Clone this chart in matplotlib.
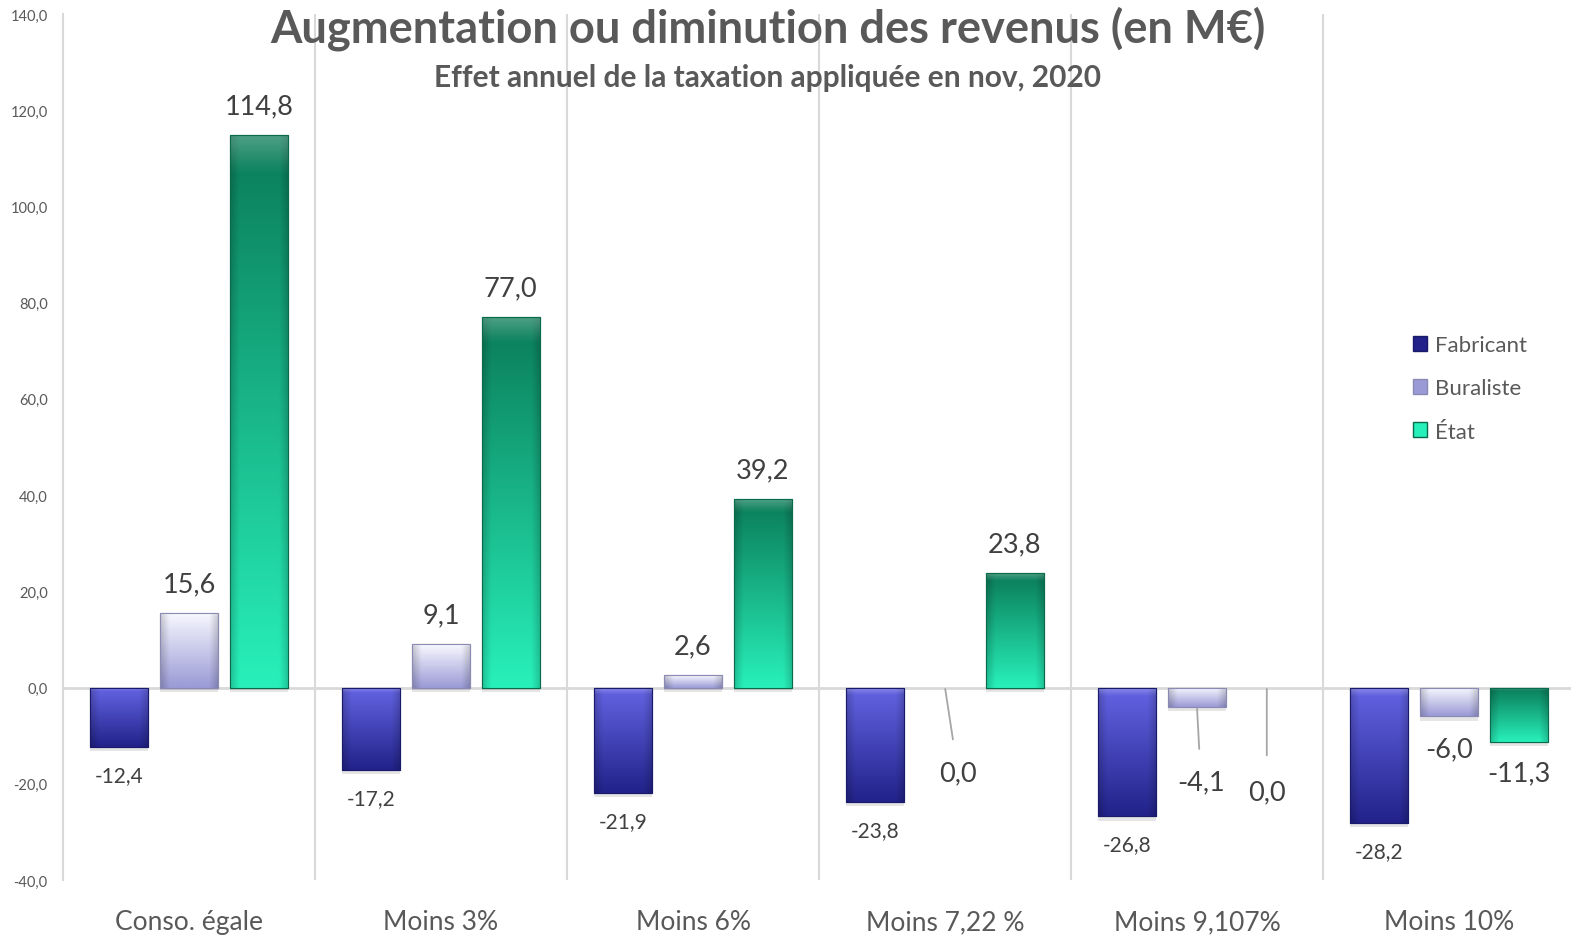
import numpy as np
import matplotlib
matplotlib.use("Agg")
import matplotlib.pyplot as plt
import matplotlib.patheffects as pe
from matplotlib.colors import to_rgb
from matplotlib.patches import Patch

categories = ["Conso. égale", "Moins 3%", "Moins 6%", "Moins 7,22 %", "Moins 9,107%", "Moins 10%"]
fabricant = [-12.4, -17.2, -21.9, -23.8, -26.8, -28.2]
buraliste = [15.6, 9.1, 2.6, 0.0, -4.1, -6.0]
etat = [114.8, 77.0, 39.2, 23.8, 0.0, -11.3]
series_names = ["Fabricant", "Buraliste", "État"]
yticks = [-40, -20, 0, 20, 40, 60, 80, 100, 120, 140]

title = "Augmentation ou diminution des revenus (en M€)"
subtitle = "Effet annuel de la taxation appliquée en nov, 2020"

plt.rcParams['font.family'] = ['Lato', 'DejaVu Sans']

# (top colour, bottom colour, edge colour)
styles = {
    "Fabricant": ("#6464e4", "#22228a", "#1a1a6a"),
    "Buraliste": ("#f8f8ff", "#9a9ad6", "#8a8ab4"),
    "État": ("#0a7c58", "#28f0ba", "#0a6a4c"),
}

fig = plt.figure(figsize=(15.71, 9.37), dpi=100)
ax = fig.add_axes([63/1571, (937-881)/937, 1512/1571, 866/937])

x = np.arange(len(categories))
offsets = [-0.277, 0.0, 0.277]
width = 0.232

def gradient_img(top, bottom, n=64, m=32):
    t = np.linspace(0, 1, n)[:, None]
    c0 = np.array(to_rgb(top)); c1 = np.array(to_rgb(bottom))
    img = (1 - t)[..., None] * c0 + t[..., None] * c1
    img = np.repeat(img, m, axis=1)
    u = np.linspace(-1, 1, m)
    shade = 1 - 0.18 * np.clip((np.abs(u) - 0.7) / 0.3, 0, 1)
    img = img * shade[None, :, None]
    bev = np.clip(1 - np.linspace(0, 1, n) / 0.06, 0, 1)[:, None, None]
    img = img + (1 - img) * 0.25 * bev
    return np.clip(img, 0, 1)

shadow = [pe.SimplePatchShadow(offset=(0, -3), alpha=0.10, shadow_rgbFace="#000000"), pe.Normal()]

all_vals = [fabricant, buraliste, etat]
for name, vals, off in zip(series_names, all_vals, offsets):
    top, bot, edge = styles[name]
    bars = ax.bar(x + off, vals, width, color=bot, edgecolor=edge, linewidth=0.8, zorder=3)
    img = gradient_img(top, bot)
    for b in bars:
        h = b.get_height()
        if abs(h) < 1e-9:
            b.set_visible(False)
            continue
        b.set_path_effects(shadow)
        bx, by = b.get_x(), b.get_y()
        y0, y1 = min(by, by + h), max(by, by + h)
        im = ax.imshow(img, extent=[bx, bx + b.get_width(), y0, y1], aspect='auto',
                       origin='upper', zorder=4, interpolation='bilinear')
        im.set_clip_path(b)
        ax.add_patch(plt.Rectangle((bx, y0), b.get_width(), y1 - y0, fill=False,
                                   edgecolor=edge, linewidth=0.8, zorder=5))

ax.set_xlim(-0.5, len(categories) - 0.5)
ax.set_ylim(-40, 140)

def fmt(v):
    return f"{v:.1f}".replace(".", ",")

label_col = "#404040"
big = 19.5
small = 15
for xi, v in zip(x, fabricant):
    ax.annotate(fmt(v), (xi + offsets[0], v), xytext=(0, -28), textcoords='offset pixels',
                ha='center', va='center', fontsize=small, color=label_col, zorder=6)

for vals, off in ((buraliste, offsets[1]), (etat, offsets[2])):
    for i, (xi, v) in enumerate(zip(x, vals)):
        if v > 0:
            ax.annotate(fmt(v), (xi + off, v), xytext=(0, 29), textcoords='offset pixels',
                        ha='center', va='center', fontsize=big, color=label_col, zorder=6)

ax.annotate(fmt(buraliste[3]), (x[3] + offsets[1], 0), xytext=(13, -85), textcoords='offset pixels',
            ha='center', va='center', fontsize=big, color=label_col, zorder=6,
            arrowprops=dict(arrowstyle='-', color='#a6a6a6', lw=1.3, shrinkA=13, shrinkB=1))
ax.annotate(fmt(buraliste[4]), (x[4] + offsets[1], buraliste[4]), xytext=(4, -75), textcoords='offset pixels',
            ha='center', va='center', fontsize=big, color=label_col, zorder=6,
            arrowprops=dict(arrowstyle='-', color='#a6a6a6', lw=1.3, shrinkA=13, shrinkB=1))
ax.annotate(fmt(etat[4]), (x[4] + offsets[2], 0), xytext=(0, -104), textcoords='offset pixels',
            ha='center', va='center', fontsize=big, color=label_col, zorder=6,
            arrowprops=dict(arrowstyle='-', color='#a6a6a6', lw=1.3, shrinkA=15, shrinkB=1))
ax.annotate(fmt(buraliste[5]), (x[5] + offsets[1], buraliste[5]), xytext=(0, -32), textcoords='offset pixels',
            ha='center', va='center', fontsize=big, color=label_col, zorder=6)
ax.annotate(fmt(etat[5]), (x[5] + offsets[2], etat[5]), xytext=(0, -31), textcoords='offset pixels',
            ha='center', va='center', fontsize=big, color=label_col, zorder=6)

grid_col = "#d9d9d9"
for s in ["top", "right", "bottom"]:
    ax.spines[s].set_visible(False)
ax.spines["left"].set_color(grid_col)
ax.spines["left"].set_linewidth(1.5)
ax.axhline(0, color=grid_col, lw=2, zorder=2)
for b in np.arange(0.5, len(categories) - 0.5, 1.0):
    ax.axvline(b, color=grid_col, lw=1.5, zorder=1)

ax.set_yticks(yticks)
ax.set_yticklabels([fmt(v) for v in yticks])
ax.tick_params(axis='y', length=0, labelsize=10.5, colors="#595959", pad=11)
ax.set_xticks(x)
ax.set_xticklabels(categories)
ax.tick_params(axis='x', length=0, labelsize=19, colors="#595959", pad=21)

fig.text(0.489, 0.969, title, ha='center', va='center', fontsize=32.6, fontweight='bold', color="#595959")
fig.text(0.4886, 0.917, subtitle, ha='center', va='center', fontsize=21.5, fontweight='bold', color="#595959")

handles = [Patch(facecolor=styles[n][1], edgecolor=styles[n][2], label=n) for n in series_names]
leg = ax.legend(handles=handles, loc='upper left', frameon=False,
                fontsize=16, labelcolor="#595959", handlelength=0.65, handleheight=0.65,
                handletextpad=0.35, labelspacing=1.05)
leg.set_bbox_to_anchor((1393/1571, (937-316)/937), transform=fig.transFigure)

fig.savefig("out.png", dpi=100)
